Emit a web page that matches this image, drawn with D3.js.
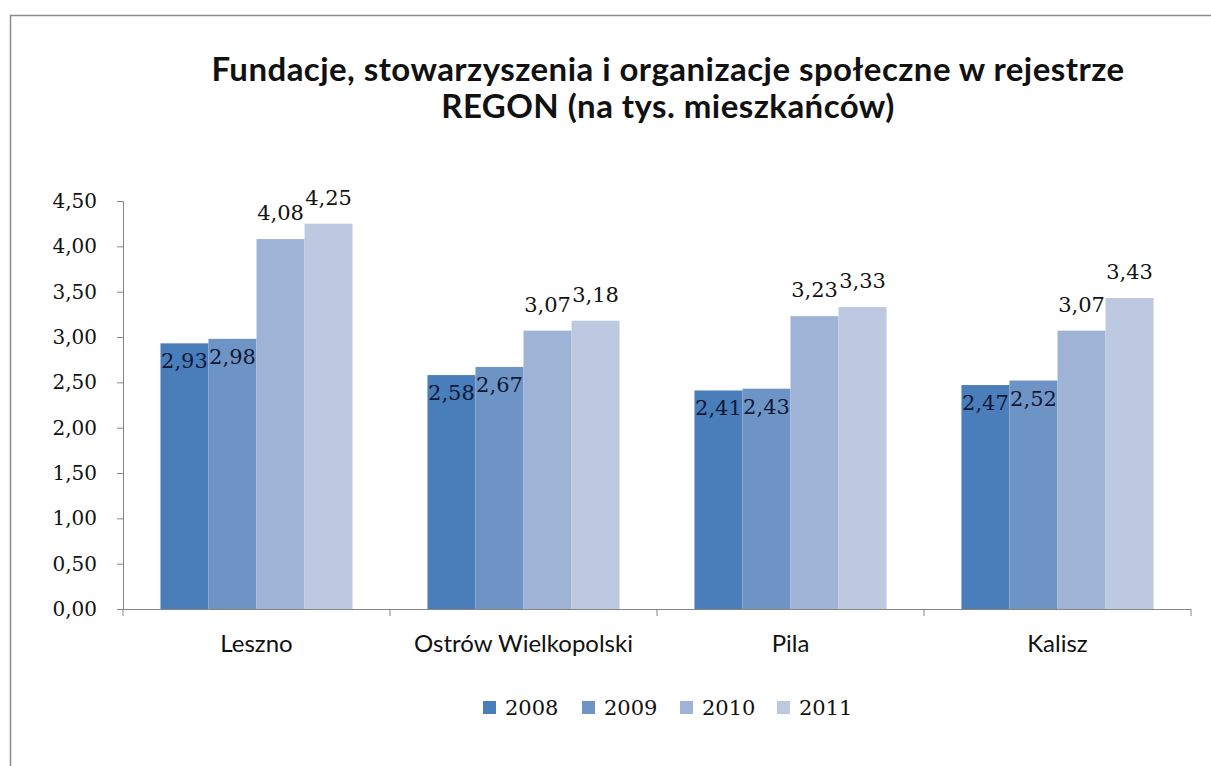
<!DOCTYPE html>
<html><head><meta charset="utf-8">
<script src="https://cdn.jsdelivr.net/npm/d3@7"></script>
<style>body{margin:0;background:#fff}svg{display:block}</style>
</head><body>
<svg id="c" width="1211" height="766"></svg>
<script>
const categories = ["Leszno", "Ostrów Wielkopolski", "Pila", "Kalisz"];
const years = ["2008", "2009", "2010", "2011"];
const v2008 = [2.93, 2.58, 2.41, 2.47];
const v2009 = [2.98, 2.67, 2.43, 2.52];
const v2010 = [4.08, 3.07, 3.23, 3.07];
const v2011 = [4.25, 3.18, 3.33, 3.43];
const seriesValues = [v2008, v2009, v2010, v2011];
const colors = ["#4a7ebb", "#6e94c6", "#9fb3d6", "#bdc9e0"];
const yTicks = [0, 0.5, 1, 1.5, 2, 2.5, 3, 3.5, 4, 4.5];
const titleLines = ["Fundacje, stowarzyszenia i organizacje społeczne w rejestrze", "REGON (na tys. mieszkańców)"];

const svg = d3.select("#c");
const fmt = d => d.toFixed(2).replace(".", ",");
const serif = "'DejaVu Serif', serif";
const sans = "Lato, 'Open Sans', sans-serif";

// frame
svg.append("path").attr("d", "M10.5,766 V15.5 H1211").attr("fill", "none").attr("stroke", "#8c8c8c").attr("stroke-width", 1.5);

const x0 = d3.scaleBand().domain(categories).range([123, 1191]).paddingInner(0).paddingOuter(0);
const x1 = d3.scaleBand().domain(years).range([0, x0.bandwidth()]).paddingOuter(0.78).paddingInner(0);
const y = d3.scaleLinear().domain([0, 4.5]).range([609, 201]);

// title
svg.append("g").selectAll("text").data(titleLines).join("text")
  .attr("x", 668).attr("y", (d, i) => 81 + i * 37)
  .attr("text-anchor", "middle").attr("font-family", sans).attr("font-weight", "bold")
  .attr("font-size", 33).attr("letter-spacing", 0.45).attr("fill", "#111").text(d => d);

// y axis
const yAxis = svg.append("g").attr("transform", "translate(123,0)")
  .call(d3.axisLeft(y).tickValues(yTicks).tickFormat(fmt).tickSizeOuter(0).tickSize(6).tickPadding(20));
yAxis.selectAll("path,line").attr("stroke", "#868686");
yAxis.selectAll("text").attr("font-family", serif).attr("font-size", 20).attr("fill", "#111");

// bars
const groups = svg.append("g").selectAll("g").data(categories).join("g")
  .attr("transform", d => `translate(${x0(d)},0)`);
groups.selectAll("rect").data((c, ci) => years.map((yr, si) => ({yr, si, v: seriesValues[si][ci]}))).join("rect")
  .attr("x", d => x1(d.yr)).attr("width", x1.bandwidth())
  .attr("y", d => y(d.v)).attr("height", d => y(0) - y(d.v))
  .attr("fill", d => colors[d.si]);
groups.selectAll("text").data((c, ci) => years.map((yr, si) => ({yr, si, v: seriesValues[si][ci]}))).join("text")
  .attr("x", d => x1(d.yr) + x1.bandwidth() / 2)
  .attr("y", d => d.si < 2 ? y(d.v) + 25 : y(d.v) - 19)
  .attr("text-anchor", "middle").attr("font-family", serif).attr("font-size", 21)
  .attr("fill", d => d.si < 2 ? "#101838" : "#111").text(d => fmt(d.v));

// x axis
const xg = svg.append("g");
xg.append("line").attr("x1", 123).attr("x2", 1191).attr("y1", y(0) + 0.5).attr("y2", y(0) + 0.5).attr("stroke", "#868686");
const bounds = categories.map(c => x0(c)).concat([x0(categories[categories.length - 1]) + x0.bandwidth()]);
xg.selectAll("line.t").data(bounds).join("line").attr("class", "t")
  .attr("x1", d => d).attr("x2", d => d).attr("y1", y(0)).attr("y2", y(0) + 7).attr("stroke", "#868686");
xg.selectAll("text").data(categories).join("text")
  .attr("x", d => x0(d) + x0.bandwidth() / 2).attr("y", 652)
  .attr("text-anchor", "middle").attr("font-family", sans).attr("font-size", 24).attr("fill", "#111").text(d => d);

// legend
const legX = [483, 582, 680, 777];
const lg = svg.append("g").selectAll("g").data(years).join("g")
  .attr("transform", (d, i) => `translate(${legX[i]},701)`);
lg.append("rect").attr("width", 13).attr("height", 13).attr("fill", (d, i) => colors[i]);
lg.append("text").attr("x", 22).attr("y", 14).attr("font-family", serif).attr("font-size", 21).attr("fill", "#111").text(d => d);
</script>
</body></html>
